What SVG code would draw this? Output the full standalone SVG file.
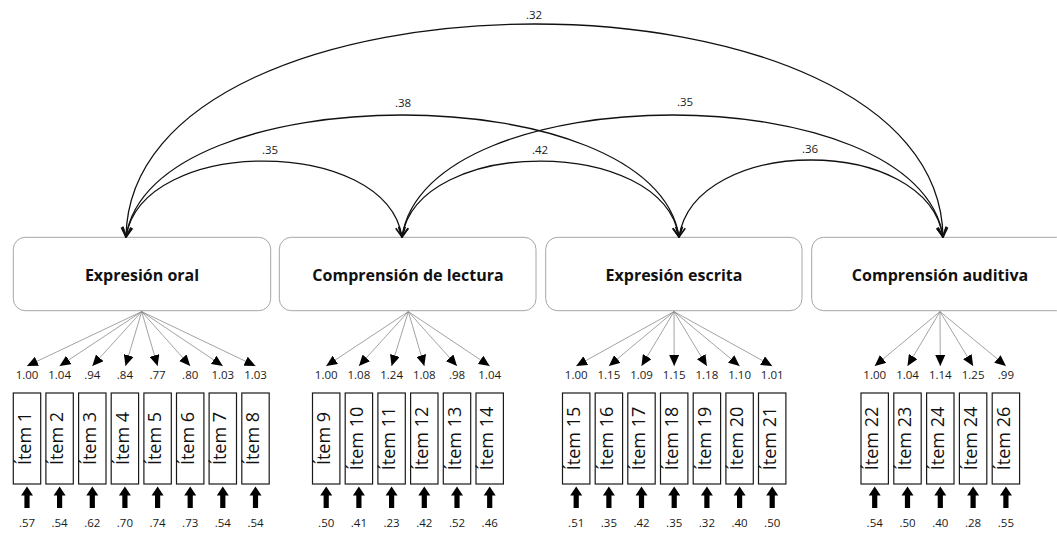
<svg xmlns="http://www.w3.org/2000/svg" xmlns:xlink="http://www.w3.org/1999/xlink" width="1057" height="533" viewBox="0 0 1057 533">
  <style>
    .latent { fill: #ffffff; stroke: #a6a6a6; stroke-width: 1; }
    .title { font-family: "Open Sans", "Noto Sans", sans-serif; font-weight: bold; font-size: 16px; fill: #111111; text-anchor: middle; }
    .item { fill: #ffffff; stroke: #1a1a1a; stroke-width: 1.2; }
    .itemtxt { font-family: "Open Sans", "Noto Sans", sans-serif; font-size: 18px; fill: #111111; text-anchor: middle; }
    .num { font-family: "Open Sans", "Noto Sans", sans-serif; font-size: 11.5px; fill: #1a1a1a; text-anchor: middle; }
    .cov { fill: none; stroke: #111111; stroke-width: 1.3; marker-start: url(#openHead); marker-end: url(#openHead); }
    .load { fill: none; stroke: #8c8c8c; stroke-width: 0.8; marker-end: url(#solidHead); }
    .resid { fill: #000000; }
  </style>
  <defs>
    <marker id="openHead" markerUnits="userSpaceOnUse" markerWidth="12" markerHeight="12" viewBox="0 0 10 10" refX="9" refY="5" orient="auto-start-reverse">
      <path d="M1,1 L9,5 L1,9" fill="none" stroke="#111111" stroke-width="1.4"/>
    </marker>
    <marker id="solidHead" markerUnits="userSpaceOnUse" markerWidth="11" markerHeight="10" viewBox="0 0 11 10" refX="11" refY="5" orient="auto">
      <path d="M0,0 L11,5 L0,10 Z" fill="#000000"/>
    </marker>
    <!-- residual arrow: tip at (0,0), pointing up -->
    <path id="residArrow" d="M-2.6,21.5 L-2.6,9 L-6,9 L0,0 L6,9 L2.6,9 L2.6,21.5 Z"/>
  </defs>

  <!-- latent factors -->
  <g id="node-expresion-oral">
    <rect class="latent" x="13.3" y="237.3" width="257.4" height="73.4" rx="12"/>
    <text class="title" x="142" y="281">Expresión oral</text>
  </g>
  <g id="node-comprension-lectura">
    <rect class="latent" x="279.3" y="237.3" width="256.7" height="73.4" rx="12"/>
    <text class="title" x="408" y="281">Comprensión de lectura</text>
  </g>
  <g id="node-expresion-escrita">
    <rect class="latent" x="545.7" y="237.3" width="256.3" height="73.4" rx="12"/>
    <text class="title" x="674" y="281">Expresión escrita</text>
  </g>
  <g id="node-comprension-auditiva">
    <rect class="latent" x="811.7" y="237.3" width="257" height="73.4" rx="12"/>
    <text class="title" x="940" y="281">Comprensión auditiva</text>
  </g>

  <!-- connectors: covariances, loadings, residuals -->
  <g id="connectors">
    <g id="covariances">
      <path class="cov" d="M126,237 C142,135.7 386,135.7 402,237"/>
      <path class="cov" d="M126,237 C150,74.3 655,74.3 679,237"/>
      <path class="cov" d="M126,237 C130,-47 939,-47 943,237"/>
      <path class="cov" d="M402,237 C426,74.3 919,74.3 943,237"/>
      <path class="cov" d="M402,237 C418,135.7 663,135.7 679,237"/>
      <path class="cov" d="M679,237 C695,134.3 927,134.3 943,237"/>
      <text class="num" x="270" y="154">.35</text>
      <text class="num" x="403" y="106.5">.38</text>
      <text class="num" x="534" y="19">.32</text>
      <text class="num" x="685" y="106">.35</text>
      <text class="num" x="540" y="154">.42</text>
      <text class="num" x="810" y="152.5">.36</text>
    </g>
    <g id="loadings">
      <path class="load" d="M141.7,311.6 L27,366"/>
      <path class="load" d="M141.7,311.6 L59.6,366"/>
      <path class="load" d="M141.7,311.6 L92.3,366"/>
      <path class="load" d="M141.7,311.6 L125.5,366"/>
      <path class="load" d="M141.7,311.6 L157.6,366"/>
      <path class="load" d="M141.7,311.6 L190.2,366"/>
      <path class="load" d="M141.7,311.6 L222.8,366"/>
      <path class="load" d="M141.7,311.6 L255.5,366"/>

      <path class="load" d="M408.3,311.6 L326.2,366"/>
      <path class="load" d="M408.3,311.6 L358.9,366"/>
      <path class="load" d="M408.3,311.6 L391.6,366"/>
      <path class="load" d="M408.3,311.6 L424.3,366"/>
      <path class="load" d="M408.3,311.6 L457,366"/>
      <path class="load" d="M408.3,311.6 L489.7,366"/>

      <path class="load" d="M674,311.6 L576.2,366"/>
      <path class="load" d="M674,311.6 L608.9,366"/>
      <path class="load" d="M674,311.6 L641.5,366"/>
      <path class="load" d="M674,311.6 L674.2,366"/>
      <path class="load" d="M674,311.6 L706.9,366"/>
      <path class="load" d="M674,311.6 L739.6,366"/>
      <path class="load" d="M674,311.6 L772.2,366"/>

      <path class="load" d="M940,311.6 L874.7,366"/>
      <path class="load" d="M940,311.6 L907.5,366"/>
      <path class="load" d="M940,311.6 L940.3,366"/>
      <path class="load" d="M940,311.6 L973.1,366"/>
      <path class="load" d="M940,311.6 L1005.9,366"/>
    </g>
    <g id="residuals" class="resid">
      <use xlink:href="#residArrow" x="27" y="486.5"/>
      <use xlink:href="#residArrow" x="59.6" y="486.5"/>
      <use xlink:href="#residArrow" x="92.3" y="486.5"/>
      <use xlink:href="#residArrow" x="124.9" y="486.5"/>
      <use xlink:href="#residArrow" x="157.6" y="486.5"/>
      <use xlink:href="#residArrow" x="190.2" y="486.5"/>
      <use xlink:href="#residArrow" x="222.8" y="486.5"/>
      <use xlink:href="#residArrow" x="255.5" y="486.5"/>
      <use xlink:href="#residArrow" x="326.2" y="486.5"/>
      <use xlink:href="#residArrow" x="358.9" y="486.5"/>
      <use xlink:href="#residArrow" x="391.6" y="486.5"/>
      <use xlink:href="#residArrow" x="424.3" y="486.5"/>
      <use xlink:href="#residArrow" x="457" y="486.5"/>
      <use xlink:href="#residArrow" x="489.7" y="486.5"/>
      <use xlink:href="#residArrow" x="576.2" y="486.5"/>
      <use xlink:href="#residArrow" x="608.9" y="486.5"/>
      <use xlink:href="#residArrow" x="641.5" y="486.5"/>
      <use xlink:href="#residArrow" x="674.2" y="486.5"/>
      <use xlink:href="#residArrow" x="706.9" y="486.5"/>
      <use xlink:href="#residArrow" x="739.6" y="486.5"/>
      <use xlink:href="#residArrow" x="772.2" y="486.5"/>
      <use xlink:href="#residArrow" x="874.7" y="486.5"/>
      <use xlink:href="#residArrow" x="907.5" y="486.5"/>
      <use xlink:href="#residArrow" x="940.3" y="486.5"/>
      <use xlink:href="#residArrow" x="973.1" y="486.5"/>
      <use xlink:href="#residArrow" x="1005.9" y="486.5"/>
    </g>
  </g>

  <!-- observed items: box, rotated label, loading value above, residual value below -->
  <g id="item-1"><rect class="item" x="13.3" y="393" width="27.4" height="91"/><text class="itemtxt" transform="translate(30.6,438.5) rotate(-90)">Ítem 1</text><text class="num" x="27" y="379">1.00</text><text class="num" x="27" y="527">.57</text></g>
  <g id="item-2"><rect class="item" x="45.9" y="393" width="27.4" height="91"/><text class="itemtxt" transform="translate(63.2,438.5) rotate(-90)">Ítem 2</text><text class="num" x="59.6" y="379">1.04</text><text class="num" x="59.6" y="527">.54</text></g>
  <g id="item-3"><rect class="item" x="78.6" y="393" width="27.4" height="91"/><text class="itemtxt" transform="translate(95.9,438.5) rotate(-90)">Ítem 3</text><text class="num" x="92.3" y="379">.94</text><text class="num" x="92.3" y="527">.62</text></g>
  <g id="item-4"><rect class="item" x="111.2" y="393" width="27.4" height="91"/><text class="itemtxt" transform="translate(128.5,438.5) rotate(-90)">Ítem 4</text><text class="num" x="124.9" y="379">.84</text><text class="num" x="124.9" y="527">.70</text></g>
  <g id="item-5"><rect class="item" x="143.9" y="393" width="27.4" height="91"/><text class="itemtxt" transform="translate(161.2,438.5) rotate(-90)">Ítem 5</text><text class="num" x="157.6" y="379">.77</text><text class="num" x="157.6" y="527">.74</text></g>
  <g id="item-6"><rect class="item" x="176.5" y="393" width="27.4" height="91"/><text class="itemtxt" transform="translate(193.8,438.5) rotate(-90)">Ítem 6</text><text class="num" x="190.2" y="379">.80</text><text class="num" x="190.2" y="527">.73</text></g>
  <g id="item-7"><rect class="item" x="209.1" y="393" width="27.4" height="91"/><text class="itemtxt" transform="translate(226.4,438.5) rotate(-90)">Ítem 7</text><text class="num" x="222.8" y="379">1.03</text><text class="num" x="222.8" y="527">.54</text></g>
  <g id="item-8"><rect class="item" x="241.8" y="393" width="27.4" height="91"/><text class="itemtxt" transform="translate(259.1,438.5) rotate(-90)">Ítem 8</text><text class="num" x="255.5" y="379">1.03</text><text class="num" x="255.5" y="527">.54</text></g>

  <g id="item-9"><rect class="item" x="312.5" y="393" width="27.4" height="91"/><text class="itemtxt" transform="translate(329.8,438.5) rotate(-90)">Ítem 9</text><text class="num" x="326.2" y="379">1.00</text><text class="num" x="326.2" y="527">.50</text></g>
  <g id="item-10"><rect class="item" x="345.2" y="393" width="27.4" height="91"/><text class="itemtxt" transform="translate(362.5,438.5) rotate(-90)">Ítem 10</text><text class="num" x="358.9" y="379">1.08</text><text class="num" x="358.9" y="527">.41</text></g>
  <g id="item-11"><rect class="item" x="377.9" y="393" width="27.4" height="91"/><text class="itemtxt" transform="translate(395.2,438.5) rotate(-90)">Ítem 11</text><text class="num" x="391.6" y="379">1.24</text><text class="num" x="391.6" y="527">.23</text></g>
  <g id="item-12"><rect class="item" x="410.6" y="393" width="27.4" height="91"/><text class="itemtxt" transform="translate(427.9,438.5) rotate(-90)">Ítem 12</text><text class="num" x="424.3" y="379">1.08</text><text class="num" x="424.3" y="527">.42</text></g>
  <g id="item-13"><rect class="item" x="443.3" y="393" width="27.4" height="91"/><text class="itemtxt" transform="translate(460.6,438.5) rotate(-90)">Ítem 13</text><text class="num" x="457" y="379">.98</text><text class="num" x="457" y="527">.52</text></g>
  <g id="item-14"><rect class="item" x="476" y="393" width="27.4" height="91"/><text class="itemtxt" transform="translate(493.3,438.5) rotate(-90)">Ítem 14</text><text class="num" x="489.7" y="379">1.04</text><text class="num" x="489.7" y="527">.46</text></g>

  <g id="item-15"><rect class="item" x="562.5" y="393" width="27.4" height="91"/><text class="itemtxt" transform="translate(579.8,438.5) rotate(-90)">Ítem 15</text><text class="num" x="576.2" y="379">1.00</text><text class="num" x="576.2" y="527">.51</text></g>
  <g id="item-16"><rect class="item" x="595.2" y="393" width="27.4" height="91"/><text class="itemtxt" transform="translate(612.5,438.5) rotate(-90)">Ítem 16</text><text class="num" x="608.9" y="379">1.15</text><text class="num" x="608.9" y="527">.35</text></g>
  <g id="item-17"><rect class="item" x="627.8" y="393" width="27.4" height="91"/><text class="itemtxt" transform="translate(645.1,438.5) rotate(-90)">Ítem 17</text><text class="num" x="641.5" y="379">1.09</text><text class="num" x="641.5" y="527">.42</text></g>
  <g id="item-18"><rect class="item" x="660.5" y="393" width="27.4" height="91"/><text class="itemtxt" transform="translate(677.8,438.5) rotate(-90)">Ítem 18</text><text class="num" x="674.2" y="379">1.15</text><text class="num" x="674.2" y="527">.35</text></g>
  <g id="item-19"><rect class="item" x="693.2" y="393" width="27.4" height="91"/><text class="itemtxt" transform="translate(710.5,438.5) rotate(-90)">Ítem 19</text><text class="num" x="706.9" y="379">1.18</text><text class="num" x="706.9" y="527">.32</text></g>
  <g id="item-20"><rect class="item" x="725.9" y="393" width="27.4" height="91"/><text class="itemtxt" transform="translate(743.2,438.5) rotate(-90)">Ítem 20</text><text class="num" x="739.6" y="379">1.10</text><text class="num" x="739.6" y="527">.40</text></g>
  <g id="item-21"><rect class="item" x="758.5" y="393" width="27.4" height="91"/><text class="itemtxt" transform="translate(775.8,438.5) rotate(-90)">Ítem 21</text><text class="num" x="772.2" y="379">1.01</text><text class="num" x="772.2" y="527">.50</text></g>

  <g id="item-22"><rect class="item" x="861" y="393" width="27.4" height="91"/><text class="itemtxt" transform="translate(878.3,438.5) rotate(-90)">Ítem 22</text><text class="num" x="874.7" y="379">1.00</text><text class="num" x="874.7" y="527">.54</text></g>
  <g id="item-23"><rect class="item" x="893.8" y="393" width="27.4" height="91"/><text class="itemtxt" transform="translate(911.1,438.5) rotate(-90)">Ítem 23</text><text class="num" x="907.5" y="379">1.04</text><text class="num" x="907.5" y="527">.50</text></g>
  <g id="item-24"><rect class="item" x="926.6" y="393" width="27.4" height="91"/><text class="itemtxt" transform="translate(943.9,438.5) rotate(-90)">Ítem 24</text><text class="num" x="940.3" y="379">1.14</text><text class="num" x="940.3" y="527">.40</text></g>
  <g id="item-25"><rect class="item" x="959.4" y="393" width="27.4" height="91"/><text class="itemtxt" transform="translate(976.7,438.5) rotate(-90)">Ítem 24</text><text class="num" x="973.1" y="379">1.25</text><text class="num" x="973.1" y="527">.28</text></g>
  <g id="item-26"><rect class="item" x="992.2" y="393" width="27.4" height="91"/><text class="itemtxt" transform="translate(1009.5,438.5) rotate(-90)">Ítem 26</text><text class="num" x="1005.9" y="379">.99</text><text class="num" x="1005.9" y="527">.55</text></g>
</svg>
